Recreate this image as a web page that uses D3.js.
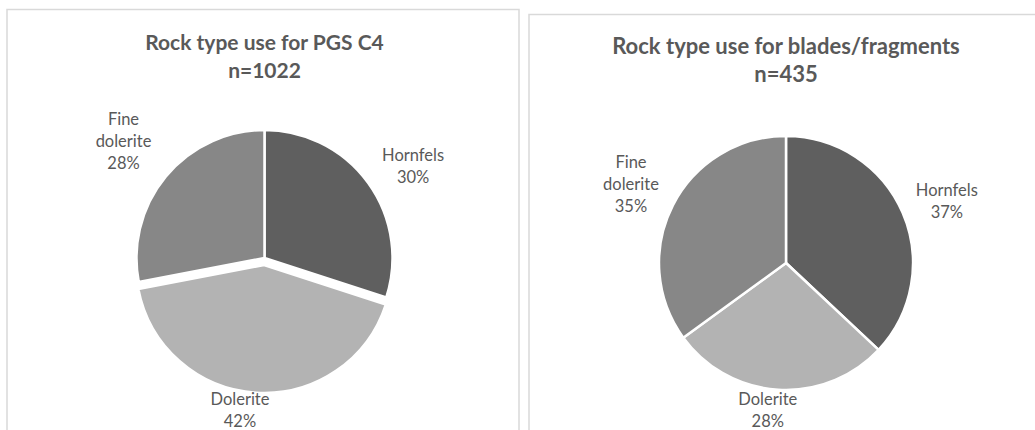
<!DOCTYPE html>
<html>
<head>
<meta charset="utf-8">
<script src="https://cdn.jsdelivr.net/npm/d3@7"></script>
<style>
  html, body { margin: 0; padding: 0; background: #ffffff; }
  svg { display: block; }
</style>
</head>
<body>
<svg id="chart" width="1035" height="430"></svg>
<script>
// ---------- data ----------
const categories = ["Hornfels", "Dolerite", "Fine dolerite"];
const labelLines = [["Hornfels"], ["Dolerite"], ["Fine", "dolerite"]];
const pgsValues = [30, 42, 28];
const bladeValues = [37, 28, 35];
const titlesPGS = ["Rock type use for PGS C4", "n=1022"];
const titlesBlades = ["Rock type use for blades/fragments", "n=435"];

// ---------- layout / style ----------
const colors = d3.scaleOrdinal().domain(categories).range(["#5f5f5f", "#b3b3b3", "#878787"]);
const textColor = "#595959";

const panels = [
  { values: pgsValues, titles: titlesPGS,
    box: { x: 7, y: 9.5, w: 512, h: 440 },
    cx: 264.5, cy: 258, r: 128, titleY: 49.5, titleSize: 21,
    explode: [0, 7, 0],
    labelR: [175, 145, 183], nudge: [[7, 11], [-15, 0], [0, 0]] },
  { values: bladeValues, titles: titlesBlades,
    box: { x: 529, y: 14.5, w: 520, h: 440 },
    cx: 786, cy: 263, r: 127, titleY: 53.5, titleSize: 22,
    explode: [0, 0, 0],
    labelR: [172, 147, 174], nudge: [[3, 6], [-9, 0], [0, 0]] }
];

const svg = d3.select("#chart");
svg.append("rect").attr("width", 1035).attr("height", 430).attr("fill", "#ffffff");

const pie = d3.pie().sort(null).value(d => d);

panels.forEach(p => {
  const g = svg.append("g");
  g.append("rect")
    .attr("x", p.box.x).attr("y", p.box.y)
    .attr("width", p.box.w).attr("height", p.box.h)
    .attr("fill", "#ffffff").attr("stroke", "#d9d9d9").attr("stroke-width", 1.5);

  // title
  const title = g.append("text")
    .attr("x", p.cx).attr("y", p.titleY)
    .attr("text-anchor", "middle")
    .attr("font-family", "Lato, 'Open Sans', sans-serif")
    .attr("font-weight", "bold").attr("font-size", p.titleSize)
    .attr("fill", textColor);
  p.titles.forEach((t, i) => {
    title.append("tspan").attr("x", p.cx).attr("dy", i === 0 ? 0 : 28.5).text(t);
  });

  const arcs = pie(p.values);
  const arc = d3.arc().innerRadius(0).outerRadius(p.r);
  const total = d3.sum(p.values);

  const pg = g.append("g").attr("transform", `translate(${p.cx},${p.cy})`);
  pg.selectAll("path").data(arcs).join("path")
    .attr("d", arc)
    .attr("fill", (d, i) => colors(categories[i]))
    .attr("stroke", "#ffffff").attr("stroke-width", 2.5).attr("stroke-linejoin", "round")
    .attr("transform", (d, i) => {
      const a = (d.startAngle + d.endAngle) / 2;
      const e = p.explode[i];
      return `translate(${Math.sin(a) * e},${-Math.cos(a) * e})`;
    });

  // labels
  arcs.forEach((d, i) => {
    const a = (d.startAngle + d.endAngle) / 2;
    const e = p.explode[i];
    const R = p.labelR[i] + e;
    const x = Math.sin(a) * R + p.nudge[i][0];
    const y = -Math.cos(a) * R + p.nudge[i][1];
    const lines = labelLines[i].concat([Math.round(d.value / total * 100) + "%"]);
    const lh = 22;
    const t = pg.append("text")
      .attr("text-anchor", "middle")
      .attr("font-family", "Lato, 'Open Sans', sans-serif")
      .attr("font-size", 16.5)
      .attr("fill", textColor);
    lines.forEach((ln, k) => {
      t.append("tspan").attr("x", x)
        .attr("y", y - (lines.length - 1) * lh / 2 + k * lh + 6)
        .text(ln);
    });
  });
});
</script>
</body>
</html>
